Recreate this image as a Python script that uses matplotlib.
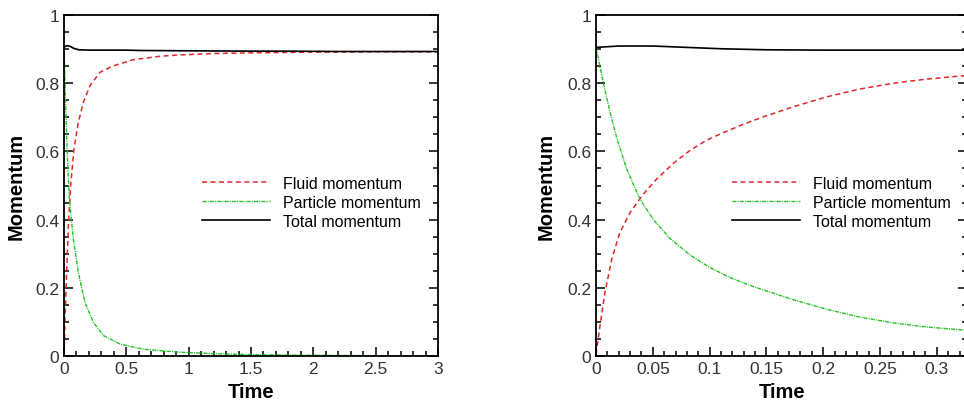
import matplotlib
matplotlib.use("Agg")
import matplotlib.pyplot as plt
from matplotlib.ticker import MultipleLocator, FuncFormatter

plt.rcParams['font.family'] = ['Liberation Sans', 'DejaVu Sans']
plt.rcParams['lines.scale_dashes'] = False

# ---- left panel (long run, 0..3) ----
t_fluid_a = [0, 0.008, 0.021, 0.035, 0.0535, 0.08, 0.115, 0.155, 0.209, 0.289, 0.396,
             0.556, 0.77, 0.93, 1.2, 1.5, 2.0, 2.5, 3.0]
fluid_a = [0, 0.11, 0.245, 0.382, 0.50, 0.607, 0.685, 0.744, 0.793, 0.832, 0.851,
           0.869, 0.879, 0.883, 0.887, 0.889, 0.891, 0.892, 0.892]

t_part_a = [0, 0.008, 0.02, 0.03, 0.043, 0.075, 0.115, 0.168, 0.235, 0.316, 0.449,
            0.636, 0.93, 1.2, 1.5, 2.0, 2.5, 3.0]
part_a = [0.905, 0.80, 0.66, 0.56, 0.46, 0.343, 0.245, 0.157, 0.099, 0.06, 0.035,
          0.02, 0.011, 0.007, 0.004, 0.002, 0.001, 0.001]

t_total_a = [0, 0.02, 0.05, 0.08, 0.12, 0.2, 0.5, 0.6, 1.0, 1.5, 1.8, 2.2, 3.0]
total_a = [0.905, 0.91, 0.908, 0.902, 0.898, 0.897, 0.897, 0.896, 0.895, 0.894, 0.894,
           0.893, 0.893]

# ---- right panel (early time, zoomed) ----
t_fluid_b = [0, 0.0035, 0.0079, 0.0138, 0.0211, 0.03, 0.0417, 0.0534, 0.068, 0.0828,
             0.0974, 0.112, 0.13, 0.1444, 0.1738, 0.2031, 0.2324, 0.2618, 0.2912,
             0.3205, 0.327]
fluid_b = [0.005, 0.089, 0.187, 0.284, 0.363, 0.421, 0.475, 0.519, 0.565, 0.603,
           0.633, 0.655, 0.68, 0.698, 0.731, 0.760, 0.783, 0.800, 0.812, 0.821, 0.822]

t_part_b = [0, 0.0065, 0.0123, 0.0182, 0.027, 0.0387, 0.0505, 0.065, 0.0828, 0.1004,
            0.118, 0.1356, 0.1444, 0.1738, 0.2031, 0.2324, 0.2618, 0.2912, 0.3205, 0.327]
part_b = [0.905, 0.80, 0.715, 0.64, 0.548, 0.46, 0.40, 0.345, 0.296, 0.259,
          0.230, 0.207, 0.197, 0.165, 0.137, 0.114, 0.097, 0.085, 0.077, 0.076]

t_total_b = [0, 0.02, 0.05, 0.08, 0.11, 0.15, 0.2, 0.327]
total_b = [0.905, 0.909, 0.909, 0.905, 0.901, 0.898, 0.897, 0.897]

labels = ["Fluid momentum", "Particle momentum", "Total momentum"]

RED = '#e3262b'
GREEN = '#22c422'


def fmt(v, pos):
    return f"{v:g}"


def draw(ax, tf, f, tp, p, tt, tot, xlim, xmaj, xmin, legx, labx):
    ax.plot(tf, f, color=RED, lw=1.1, dashes=(3.6, 2.5), label=labels[0])
    ax.plot(tp, p, color=GREEN, lw=1.0, dashes=(2.9, 0.8, 0.8, 0.8), label=labels[1])
    ax.plot(tt, tot, color='black', lw=1.2, label=labels[2])
    ax.set_xlim(*xlim)
    ax.set_ylim(0, 1)
    ax.xaxis.set_major_locator(MultipleLocator(xmaj))
    ax.xaxis.set_minor_locator(MultipleLocator(xmin))
    ax.yaxis.set_major_locator(MultipleLocator(0.2))
    ax.yaxis.set_minor_locator(MultipleLocator(0.05))
    ax.xaxis.set_major_formatter(FuncFormatter(fmt))
    ax.yaxis.set_major_formatter(FuncFormatter(fmt))
    ax.tick_params(which='both', direction='in', left=True, right=True, top=False,
                   bottom=True, labelsize=12.5, labelcolor='#333333', width=1.1)
    ax.tick_params(which='major', length=6.5, pad=3.5)
    ax.tick_params(which='minor', length=3.8)
    for s in ax.spines.values():
        s.set_linewidth(1.3)
    ax.set_xlabel("Time", fontsize=14.5, fontweight='bold')
    ax.set_ylabel("Momentum", fontsize=14.5, fontweight='bold')
    ax.xaxis.set_label_coords(0.5, -0.076)
    ax.yaxis.set_label_coords(labx, 0.5)
    ax.legend(loc='center left', bbox_to_anchor=(legx, 0.4516), frameon=False,
              fontsize=11.5, handlelength=4.25, handletextpad=0.8,
              labelspacing=0.25, borderpad=0, borderaxespad=0)


fig = plt.figure(figsize=(9.64, 4.02), dpi=100)
ax1 = fig.add_axes([0.0664, 0.1119, 0.388, 0.8483])
ax2 = fig.add_axes([0.6183, 0.1119, 0.3853, 0.8483])

draw(ax1, t_fluid_a, fluid_a, t_part_a, part_a, t_total_a, total_a,
     (0, 3), 0.5, 0.1, 0.369, -0.102)
draw(ax2, t_fluid_b, fluid_b, t_part_b, part_b, t_total_b, total_b,
     (0, 0.327), 0.05, 0.01, 0.366, -0.108)

fig.savefig("out.png", dpi=100)
